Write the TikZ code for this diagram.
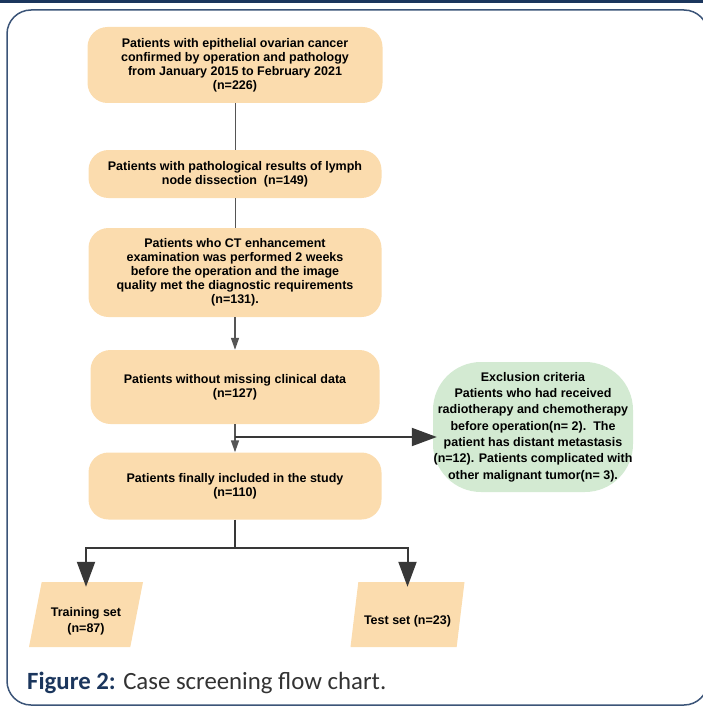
\documentclass[tikz,border=0pt]{standalone}
\usepackage{fontspec}
\setmainfont{Liberation Sans}
\newfontfamily\capfont{Carlito}
\usetikzlibrary{shapes.geometric,arrows.meta}
\definecolor{peach}{HTML}{FBDCAE}
\definecolor{mint}{HTML}{D3EAD2}
\definecolor{navy}{HTML}{1B365D}
\definecolor{framecol}{HTML}{3B5478}
\definecolor{linegray}{HTML}{555555}
\definecolor{arrowgray}{HTML}{383838}
\definecolor{capgray}{HTML}{333333}
\newcommand{\setstrut}{\rule{0pt}{23pt}}
\begin{document}
\begin{tikzpicture}[x=1pt,y=-1pt,
        flowbox/.style={fill=peach,rounded corners=20pt,align=center,inner sep=0pt,font=\bfseries\fontsize{12.5}{14}\selectfont},
        exclbox/.style={fill=mint,rounded corners=48pt,align=center,inner sep=0pt,minimum width=200pt,minimum height=130pt,font=\bfseries\fontsize{12.5}{16.3}\selectfont},
        setbox/.style={trapezium,trapezium left angle=73,trapezium right angle=107,trapezium stretches body,fill=peach,inner sep=0pt,minimum width=114pt,minimum height=65pt,align=center,font=\bfseries\fontsize{12.5}{16}\selectfont},
        thinline/.style={draw=linegray,line width=1pt},
        smallarrow/.style={draw=linegray,line width=1.5pt,-{Triangle[width=8pt,length=12pt]}},
        bigarrow/.style={draw=arrowgray,line width=2pt,-{Triangle[width=18pt,length=25pt]}}]
            \path[use as bounding box,clip] (0,0) rectangle (703,706);
            \fill[navy] (0,0) rectangle (703,3);
            \draw[framecol,line width=1.5pt,rounded corners=24pt] (7,10) rectangle (708,705);
            \node[flowbox,minimum width=295pt,minimum height=76pt] (b1) at (235,65) {Patients with epithelial ovarian cancer\\confirmed by operation and pathology\\from January 2015 to February 2021\\(n=226)};
            \node[flowbox,minimum width=293pt,minimum height=48pt] (b2) at (235,174) {Patients with pathological results of lymph\\node dissection\ \ (n=149)};
            \node[flowbox,minimum width=293pt,minimum height=89pt] (b3) at (235,272.5) {Patients who CT enhancement\\examination was performed 2 weeks\\before the operation and the image\\quality met the diagnostic requirements\\(n=131).};
            \node[flowbox,minimum width=289pt,minimum height=74pt] (b4) at (235,387) {Patients without missing clinical data\\(n=127)};
            \node[flowbox,minimum width=293pt,minimum height=67pt] (b5) at (235,486) {Patients finally included in the study\\(n=110)};
            \node[exclbox] (excl) at (533,427) {Exclusion criteria\\Patients who had received\\radiotherapy and chemotherapy\\before operation(n= 2).\ \ The\\patient has distant metastasis\\(n=12). Patients complicated with\\other malignant tumor(n= 3).};
            \node[setbox] (train) at (86,614.5) {\setstrut Training set\\(n=87)};
            \node[setbox] (test) at (407.5,614.5) {\setstrut Test set (n=23)};
            \coordinate (branch) at (235,437);
            \coordinate (split) at (235,548);
            \draw[thinline] (b1.south) -- (b2.north);
            \draw[thinline] (b2.south) -- (b3.north);
            \draw[smallarrow] (b3.south) -- (b4.north);
            \draw[smallarrow] (b4.south) -- (b5.north);
            \draw[bigarrow,shorten >=-4pt] (branch) -- (branch -| excl.west);
            \draw[arrowgray,line width=2pt] (b5.south) -- (split);
            \draw[bigarrow,shorten >=-5pt] (split) -| (train.north);
            \draw[bigarrow,shorten >=-5pt] (split) -| (test.north);
            \node[anchor=base west,inner sep=0pt] (cap) at (27,689) {\capfont\fontsize{24.8}{29}\selectfont\textcolor{navy}{\bfseries Figure 2:} \textcolor{capgray}{Case screening flow chart.}};
\end{tikzpicture}
\end{document}
